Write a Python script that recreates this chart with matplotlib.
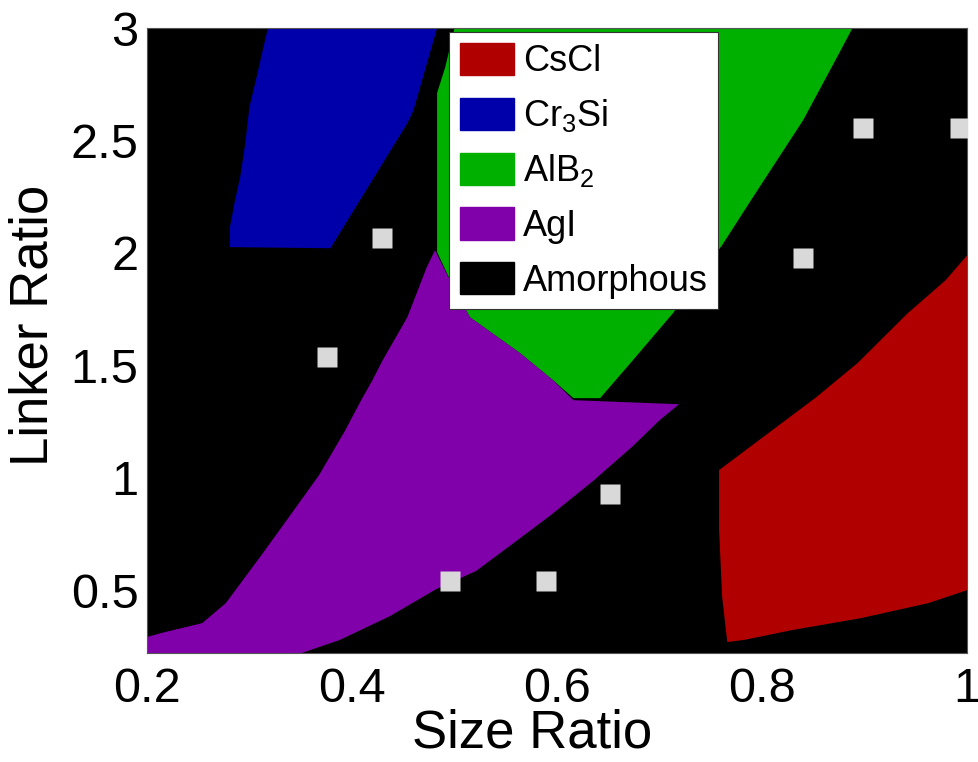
import matplotlib
matplotlib.use("Agg")
import matplotlib.pyplot as plt
from matplotlib.patches import Patch

plt.rcParams['font.family'] = ['Liberation Sans', 'DejaVu Sans']
plt.rcParams['mathtext.fontset'] = 'custom'
plt.rcParams['mathtext.rm'] = 'Liberation Sans'
plt.rcParams['mathtext.it'] = 'Liberation Sans:italic'

# --- phase boundaries (size ratio, linker ratio) ---
cscl_x = [0.758, 0.853, 0.893, 0.942, 0.979, 1.0, 1.0, 0.962, 0.896, 0.829, 0.782, 0.766, 0.761, 0.758]
cscl_y = [1.034, 1.359, 1.510, 1.732, 1.879, 1.990, 0.500, 0.442, 0.375, 0.322, 0.278, 0.269, 0.469, 0.767]

cr3si_x = [0.318, 0.483, 0.460, 0.454, 0.379, 0.281, 0.281, 0.286, 0.291, 0.296, 0.300, 0.307, 0.313]
cr3si_y = [3.0, 3.0, 2.635, 2.577, 2.021, 2.026, 2.115, 2.235, 2.337, 2.488, 2.649, 2.782, 2.902]

alb2_x = [0.500, 0.888, 0.873, 0.840, 0.791, 0.761, 0.713, 0.674, 0.642, 0.616, 0.596, 0.564,
          0.515, 0.499, 0.483, 0.483, 0.491]
alb2_y = [3.0, 3.0, 2.871, 2.591, 2.248, 2.035, 1.732, 1.523, 1.354, 1.354, 1.434, 1.554,
          1.714, 1.848, 2.004, 2.711, 2.827]

agi_x = [0.481, 0.499, 0.515, 0.564, 0.596, 0.616, 0.719, 0.700, 0.674, 0.636, 0.594, 0.559,
         0.521, 0.482, 0.437, 0.388, 0.351, 0.2, 0.2, 0.214, 0.254, 0.277, 0.311, 0.340,
         0.368, 0.393, 0.409, 0.420, 0.430, 0.454, 0.473]
agi_y = [2.012, 1.848, 1.714, 1.554, 1.434, 1.345, 1.327, 1.256, 1.141, 0.989, 0.834, 0.714,
         0.585, 0.504, 0.384, 0.278, 0.220, 0.220, 0.291, 0.309, 0.353, 0.442, 0.651, 0.834,
         1.012, 1.207, 1.345, 1.434, 1.523, 1.714, 1.937]

# --- simulated state points ---
sim_x = [0.429, 0.376, 0.496, 0.589, 0.652, 0.840, 0.898, 0.993]
sim_y = [2.066, 1.536, 0.540, 0.540, 0.927, 1.977, 2.555, 2.555]

phases = ["CsCl", "Cr$_\\mathregular{3}$Si", "AlB$_\\mathregular{2}$", "AgI", "Amorphous"]
colors = ["#b00000", "#0000aa", "#00b000", "#8000aa", "black"]

fig = plt.figure(figsize=(9.79, 7.62), dpi=100)
ax = fig.add_axes([0.150, 0.143, 0.838, 0.820])
ax.set_facecolor("black")

ax.fill(cscl_x, cscl_y, color=colors[0], lw=0)
ax.fill(cr3si_x, cr3si_y, color=colors[1], lw=0)
ax.fill(alb2_x, alb2_y, color=colors[2], lw=0)
ax.fill(agi_x, agi_y, color=colors[3], lw=0)

ax.plot(sim_x, sim_y, ls="none", marker="s", ms=14, color="#d9d9d9", mec="none", zorder=5)

ax.set_xlim(0.2, 1.0)
ax.set_ylim(0.22, 3.0)
ax.set_xticks([0.2, 0.4, 0.6, 0.8, 1.0])
ax.set_xticklabels(["0.2", "0.4", "0.6", "0.8", "1"])
ax.set_yticks([0.5, 1, 1.5, 2, 2.5, 3])
ax.set_yticklabels(["0.5", "1", "1.5", "2", "2.5", "3"])
ax.tick_params(labelsize=35, length=0)
ax.tick_params(axis="x", pad=10)
ax.tick_params(axis="y", pad=6)
for s in ax.spines.values():
    s.set_color("#555555")
    s.set_linewidth(0.8)

ax.set_xlabel("Size Ratio", fontsize=38)
ax.set_ylabel("Linker Ratio", fontsize=38)
ax.xaxis.set_label_coords(0.47, -0.088)
ax.yaxis.set_label_coords(-0.108, 0.525)

handles = [Patch(facecolor=c, edgecolor=c) for c in colors]
leg = ax.legend(handles, phases, loc="upper left", bbox_to_anchor=(0.368, 0.994),
                borderaxespad=0, fontsize=26, fancybox=False, framealpha=1,
                edgecolor="#333333", handlelength=1.5, handleheight=1.0,
                handletextpad=0.25, labelspacing=0.5, borderpad=0.3)
leg.get_frame().set_linewidth(0.8)
leg.set_zorder(10)

fig.savefig("out.png", dpi=100)
